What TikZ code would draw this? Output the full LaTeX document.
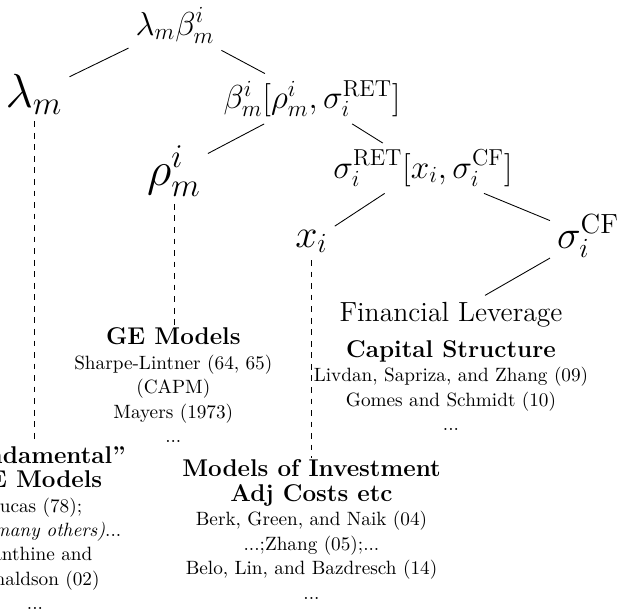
\documentclass[tikz,border=0pt]{standalone}
\newcommand{\blkttl}[1]{{\fontsize{12.6}{12.7}\selectfont\bfseries #1}}
\begin{document}
\begin{tikzpicture}[x=0.52pt,y=-0.52pt,
  mth/.style={inner sep=3.5pt, font=\LARGE},
  leaf/.style={inner sep=3.5pt, font=\huge},
  bigleaf/.style={inner sep=3.5pt, font=\fontsize{23}{27}\selectfont},
  blk/.style={align=center, inner sep=1pt, font=\fontsize{10}{12.7}\selectfont},
  edge/.style={line width=0.45pt},
  dedge/.style={dashed, line width=0.45pt}]
\useasboundingbox (0,0) rectangle (620,611);
\node[mth, anchor=base] (root) at (175,35) {$\lambda_m\beta^i_m$};
\node[bigleaf, anchor=base] (lam) at (34,107) {$\lambda_m$};
\node[mth, anchor=base] (beta) at (312,108.5) {$\beta^i_m[\rho^i_m,\sigma_i^{\mathrm{RET}}]$};
\node[bigleaf, anchor=base] (rho) at (174,185) {$\rho^i_m$};
\node[mth, anchor=base, font=\fontsize{16.6}{20}\selectfont] (sret) at (423,178) {$\sigma_i^{\mathrm{RET}}[x_i,\sigma_i^{\mathrm{CF}}]$};
\node[leaf, anchor=base] (xi) at (311.5,247) {$x_i$};
\node[leaf, anchor=base] (scf) at (588,248) {$\sigma_i^{\mathrm{CF}}$};
\node[anchor=base, font=\Large, inner sep=3.5pt] (fl) at (451,321.7) {Financial Leverage};
\node[blk, anchor=base] (cap) at (451,430.5) {\blkttl{Capital Structure}\\Livdan, Sapriza, and Zhang (09)\\Gomes and Schmidt (10)\\...};
\node[blk, anchor=base] (ge) at (173.3,442.6) {\blkttl{GE Models}\\Sharpe-Lintner (64, 65)\\(CAPM)\\Mayers (1973)\\...};
\node[blk, anchor=base] (inv) at (311.5,599) {\blkttl{Models of Investment}\\\blkttl{Adj Costs etc}\\Berk, Green, and Naik (04)\\...;Zhang (05);...\\Belo, Lin, and Bazdresch (14)\\...};
\node[blk, anchor=base] (fund) at (35,609.7) {\blkttl{``Fundamental''}\\\blkttl{GE Models}\\Lucas (78);\\\textit{(and many others)}...\\Danthine and\\Donaldson (02)\\...};
\draw[edge] (root) -- (lam);
\draw[edge] (root) -- (beta);
\draw[edge] (beta) -- (rho);
\draw[edge] (beta) -- (sret);
\draw[edge] (sret) -- (xi);
\draw[edge] (sret) -- (scf);
\draw[edge] (scf) -- (fl);
\draw[dedge] (lam.south) -- (lam.south |- fund.north);
\draw[dedge] (rho.south) -- (rho.south |- ge.north);
\draw[dedge] (xi.south) -- (xi.south |- inv.north);
\end{tikzpicture}
\end{document}
